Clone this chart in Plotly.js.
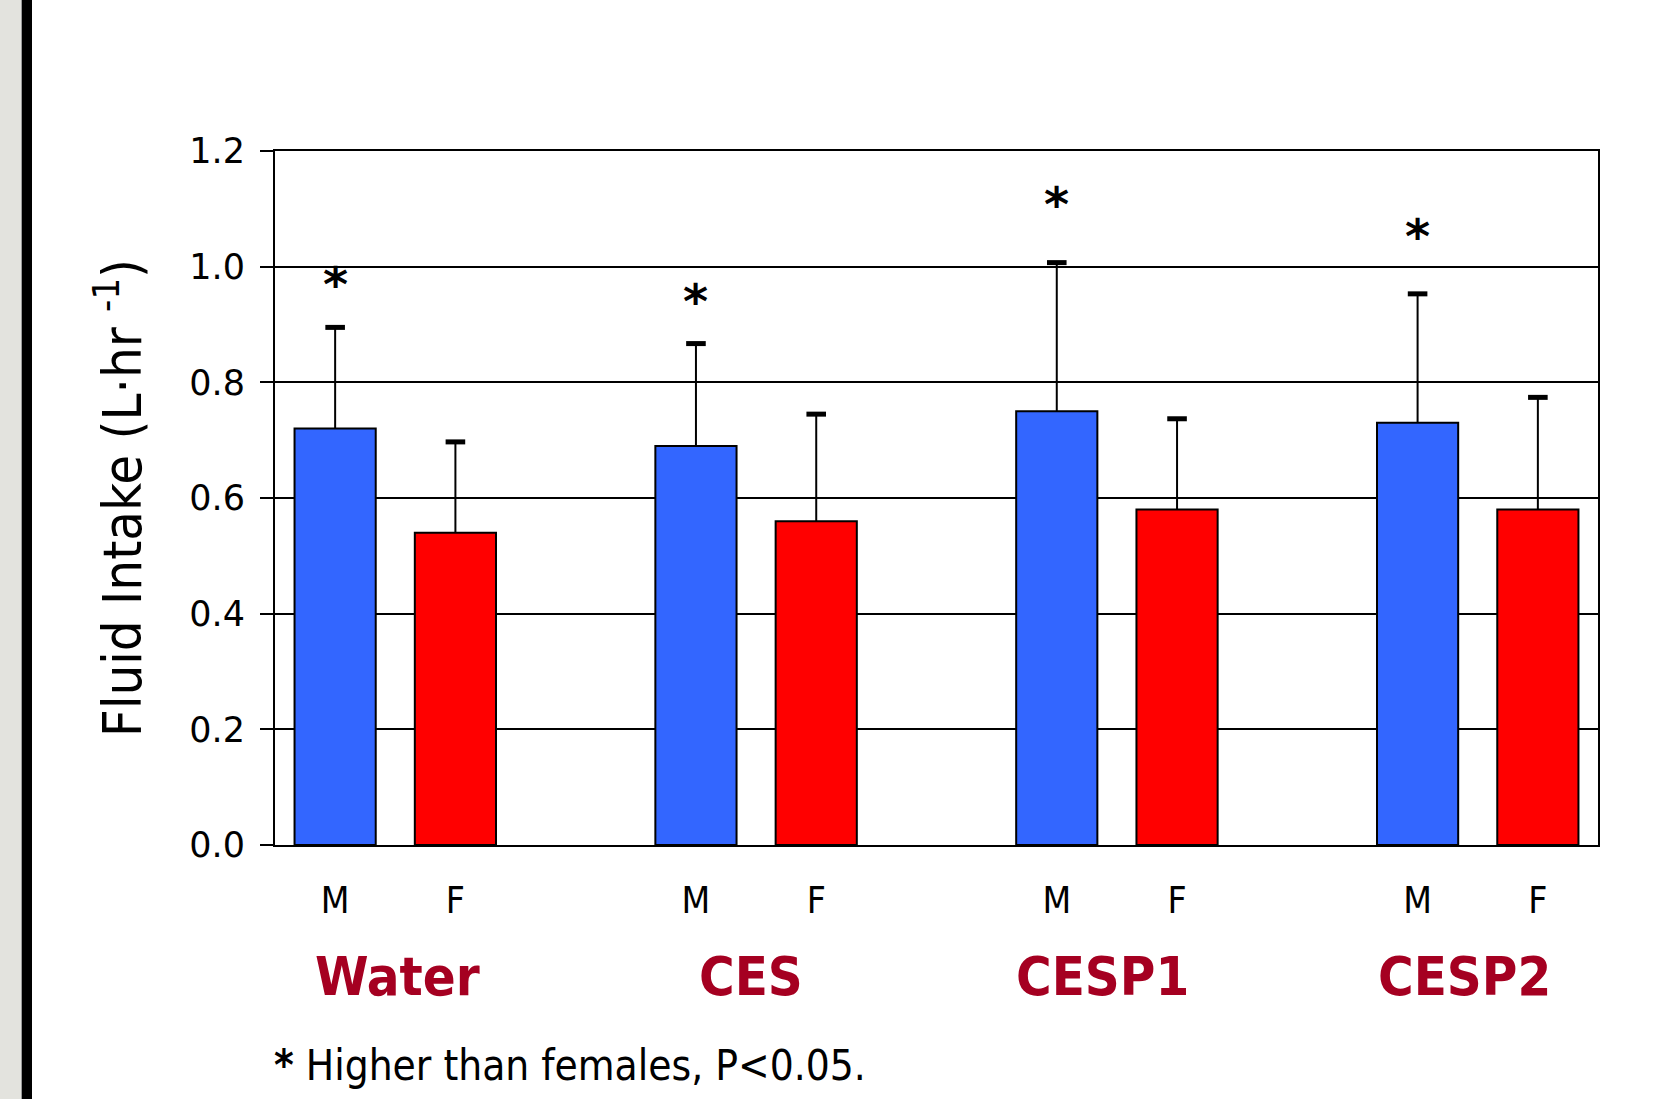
<!DOCTYPE html>
<html>
<head>
<meta charset="utf-8">
<script src="https://cdn.plot.ly/plotly-3.0.1.min.js"></script>
<style>
  html, body { margin: 0; padding: 0; background: #ffffff; }
  #chart { width: 1654px; height: 1099px; }
</style>
</head>
<body>
<div id="chart"></div>
<script>
// ---- data ----
const groups = ['Water', 'CES', 'CESP1', 'CESP2'];
const sexLabels = ['M', 'F'];
const maleMean = [0.72, 0.69, 0.75, 0.73];
const maleSD = [0.175, 0.177, 0.257, 0.223];
const femaleMean = [0.54, 0.56, 0.58, 0.58];
const femaleSD = [0.157, 0.185, 0.157, 0.194];
const starY = [0.984, 0.955, 1.122, 1.067];   // "*" markers above male bars
const yTicks = [0, 0.2, 0.4, 0.6, 0.8, 1.0, 1.2];
const yTitle = 'Fluid Intake (L·hr <sup>-1</sup>)';
const footnote = '<b>*</b> Higher than females, P&lt;0.05.';

// ---- layout helpers ----
const FONT = '"DejaVu Sans Condensed", "DejaVu Sans", sans-serif';
const FONT_WIDE = '"DejaVu Sans", sans-serif';
const W = 1654, H = 1099;
const M = { l: 275, r: 56, t: 151, b: 254 };
const PW = W - M.l - M.r, PH = H - M.t - M.b;
const px2x = px => (px - M.l) / PW;
const px2y = py => (H - M.b - py) / PH;
const groupLabelShift = [2, -5, -14, -13];   // small horizontal nudges (px)

const slot = 3; // two bars + one empty slot per group
const maleX = groups.map((g, i) => i * slot);
const femaleX = groups.map((g, i) => i * slot + 1);
const zeros = groups.map(() => 0);

const traces = [
  {
    type: 'bar', name: 'M', x: maleX, y: maleMean, width: 0.675,
    marker: { color: '#3366FF', line: { color: '#000000', width: 2 } },
    error_y: { type: 'data', symmetric: false, array: maleSD, arrayminus: zeros,
               color: '#000000', thickness: 2, width: 0 },
    hoverinfo: 'skip'
  },
  {
    type: 'bar', name: 'F', x: femaleX, y: femaleMean, width: 0.675,
    marker: { color: '#FF0000', line: { color: '#000000', width: 2 } },
    error_y: { type: 'data', symmetric: false, array: femaleSD, arrayminus: zeros,
               color: '#000000', thickness: 2, width: 0 },
    hoverinfo: 'skip'
  },
  {
    type: 'scatter', mode: 'markers',
    x: maleX.concat(femaleX),
    y: maleMean.map((v, i) => v + maleSD[i]).concat(femaleMean.map((v, i) => v + femaleSD[i])),
    marker: { symbol: 'line-ew', size: 14, color: '#000000', line: { color: '#000000', width: 5 } },
    hoverinfo: 'skip'
  }
];

const annotations = [];
groups.forEach((g, i) => {
  annotations.push({
    xref: 'x', yref: 'paper', x: i * slot + 0.5, y: px2y(976), xshift: groupLabelShift[i],
    xanchor: 'center', yanchor: 'middle', showarrow: false,
    text: '<b>' + g + '</b>',
    font: { family: FONT, size: 54, color: '#A50021' }
  });
  annotations.push({
    xref: 'x', yref: 'y', x: maleX[i], y: starY[i],
    xanchor: 'center', yanchor: 'middle', showarrow: false, yshift: -8,
    text: '<b>*</b>',
    font: { family: FONT_WIDE, size: 48, color: '#000000' }
  });
});
annotations.push({
  xref: 'paper', yref: 'paper', x: px2x(272), y: px2y(1065),
  xanchor: 'left', yanchor: 'middle', showarrow: false,
  text: footnote,
  font: { family: FONT, size: 42, color: '#000000' }
});

const shapes = [
  { type: 'rect', xref: 'paper', yref: 'paper', layer: 'below',
    x0: px2x(0), x1: px2x(21), y0: px2y(H), y1: px2y(0),
    fillcolor: '#E3E3DE', line: { width: 0 } },
  { type: 'rect', xref: 'paper', yref: 'paper', layer: 'below',
    x0: px2x(21), x1: px2x(22), y0: px2y(H), y1: px2y(0),
    fillcolor: '#9A9A9A', line: { width: 0 } },
  { type: 'rect', xref: 'paper', yref: 'paper', layer: 'below',
    x0: px2x(22), x1: px2x(32), y0: px2y(H), y1: px2y(0),
    fillcolor: '#000000', line: { width: 0 } }
];

const layout = {
  width: W, height: H,
  margin: M,
  paper_bgcolor: '#FFFFFF', plot_bgcolor: '#FFFFFF',
  showlegend: false,
  barmode: 'overlay',
  font: { family: FONT, color: '#000000' },
  xaxis: {
    range: [-0.5, 10.5],
    tickmode: 'array',
    tickvals: maleX.concat(femaleX),
    ticktext: maleX.map(() => sexLabels[0]).concat(femaleX.map(() => sexLabels[1])),
    ticks: '', ticklabelstandoff: 22,
    tickfont: { family: FONT, size: 37, color: '#000000' },
    showline: true, mirror: true, linecolor: '#000000', linewidth: 2,
    showgrid: false, zeroline: false, fixedrange: true
  },
  yaxis: {
    range: [0, 1.2],
    tickmode: 'array', tickvals: yTicks, tickformat: '.1f',
    ticks: 'outside', ticklen: 13, tickwidth: 2, tickcolor: '#000000',
    ticklabelstandoff: 8,
    tickfont: { family: FONT_WIDE, size: 35, color: '#000000' },
    showline: true, mirror: true, linecolor: '#000000', linewidth: 2,
    showgrid: true, gridcolor: '#000000', gridwidth: 2,
    zeroline: false, fixedrange: true,
    title: { text: yTitle, font: { family: FONT, size: 54, color: '#000000' }, standoff: 30 }
  },
  annotations: annotations,
  shapes: shapes
};

Plotly.newPlot('chart', traces, layout, { displayModeBar: false, staticPlot: true });
</script>
</body>
</html>
